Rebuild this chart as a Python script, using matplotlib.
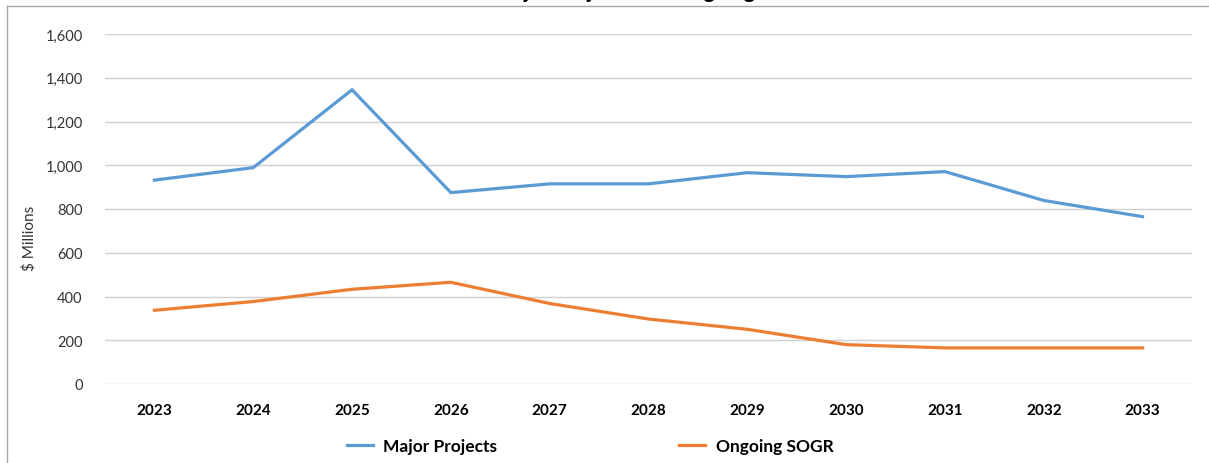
import numpy as np
import matplotlib.pyplot as plt
from matplotlib.lines import Line2D
from matplotlib.ticker import FuncFormatter

# chart data
years = ["2023", "2024", "2025", "2026", "2027", "2028",
         "2029", "2030", "2031", "2032", "2033"]
major_projects = [932, 989, 1345, 875, 915, 915, 966, 948, 971, 839, 765]
ongoing_sogr = [337, 377, 433, 465, 368, 297, 250, 180, 165, 165, 165]

title = "Major Projects and Ongoing SOGR"
ylabel = "$ Millions"

plt.rcParams['font.family'] = ['Lato', 'DejaVu Sans']


def main():
    fig = plt.figure(figsize=(12.09, 4.64), dpi=100)
    ax = fig.add_axes([105 / 1209, 1 - 385 / 464, (1192 - 105) / 1209, (385 - 35) / 464])

    x = np.arange(len(years))
    ax.plot(x, major_projects, color='#5B9BD5', lw=2.3, label='Major Projects',
            solid_joinstyle='miter')
    ax.plot(x, ongoing_sogr, color='#ED7D31', lw=2.3, label='Ongoing SOGR',
            solid_joinstyle='miter')

    ax.set_xlim(-0.5, len(years) - 0.5)
    ax.set_ylim(0, 1600)
    ax.set_yticks(np.arange(0, 1601, 200))
    ax.yaxis.set_major_formatter(FuncFormatter(lambda v, p: f"{int(v):,}"))
    ax.set_xticks(x)
    ax.set_xticklabels(years, fontweight='bold', fontsize=11)
    ax.tick_params(axis='y', length=0, pad=16, labelsize=10.5, labelcolor='#333333')
    ax.tick_params(axis='x', length=0, pad=14)

    ax.grid(axis='y', color='#D0D0D0', lw=1)
    ax.set_axisbelow(True)
    for s in ax.spines.values():
        s.set_visible(False)

    ax.set_ylabel(ylabel, fontsize=11, color='#333333', labelpad=18)
    ax.yaxis.set_label_coords(-0.063, 0.42)

    # title sits mostly above the visible area, like the cropped original
    fig.text(0.542, 1 + 2 / 464, title, ha='center', va='baseline',
             fontsize=15, fontweight='bold')

    # outer chart border (top and left only are in view)
    fig.add_artist(Line2D([7 / 1209, 1], [1 - 7 / 464, 1 - 7 / 464],
                          transform=fig.transFigure, color='#A6A6A6', lw=1))
    fig.add_artist(Line2D([7 / 1209, 7 / 1209], [0, 1 - 7 / 464],
                          transform=fig.transFigure, color='#A6A6A6', lw=1))

    fig.legend(loc='center', bbox_to_anchor=(590 / 1209, 1 - 447 / 464), ncol=2,
               frameon=False, prop={'size': 12.5, 'weight': 'bold'},
               handlelength=1.5, columnspacing=10.5, handletextpad=0.6)

    fig.savefig('out.png', dpi=100)


if __name__ == "__main__":
    main()
